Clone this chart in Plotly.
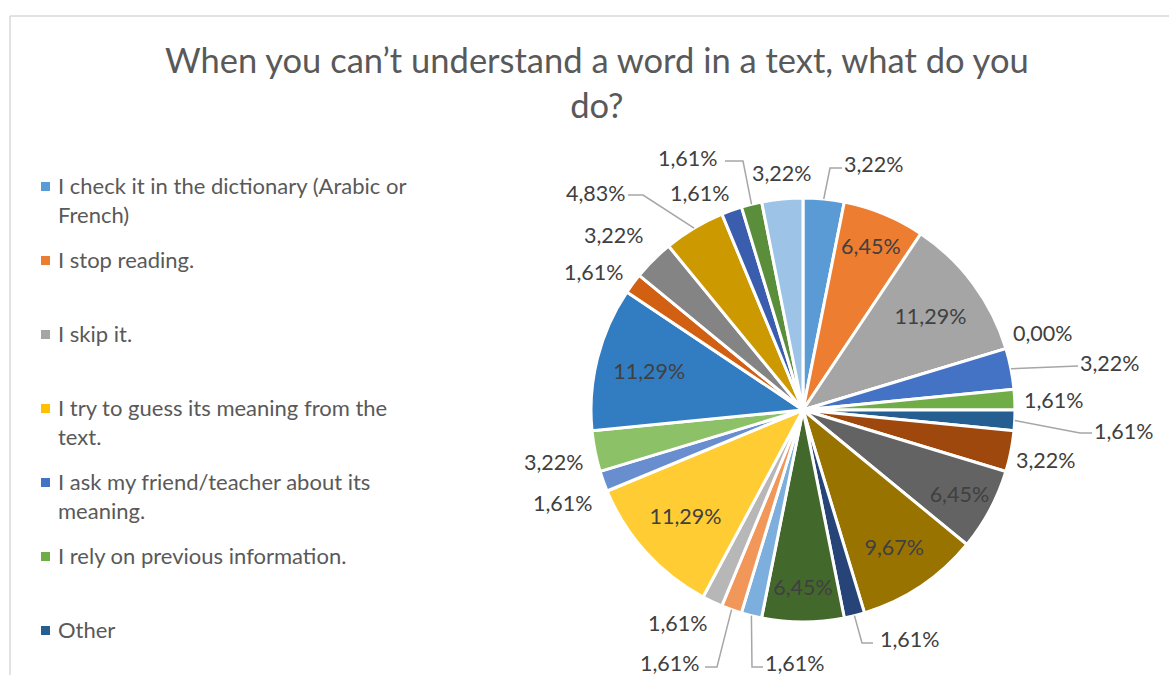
import math
import plotly.graph_objects as go

# Survey answers: share of each answer slice, clockwise from 12 o'clock
shares = [3.22, 6.45, 11.29, 0.00, 3.22, 1.61, 1.61, 3.22, 6.45, 9.67,
          1.61, 6.45, 1.61, 1.61, 1.61, 11.29, 1.61, 3.22, 11.29, 1.61,
          3.22, 4.83, 1.61, 1.61, 3.22]

slice_colors = ["#5B9BD5", "#ED7D31", "#A5A5A5", "#FFC000", "#4472C4", "#70AD47",
                "#255E91", "#9E480E", "#636363", "#997300", "#264478", "#43682B",
                "#7CAFDD", "#F1975A", "#B7B7B7", "#FFCD33", "#698ED0", "#8CC168",
                "#327DC2", "#D26012", "#848484", "#CC9A00", "#3A5DAE", "#5A8E3A",
                "#9DC3E6"]

legend_labels = [
    "I check it in the dictionary (Arabic or<br>French)",
    "I stop reading.",
    "I skip it.",
    "I try to guess its meaning from the<br>text.",
    "I ask my friend/teacher about its<br>meaning.",
    "I rely on previous information.",
    "Other",
]

title_text = "When you can’t understand a word in a text, what do you<br>do?"

# Placement (pixels) of the labels drawn outside the pie, with leader-line bends
outside_labels = {
    0: ((874, 164), [(830, 168), (842, 168)]),
    3: ((1043, 333), []),
    4: ((1110, 363), [(1078, 366)]),
    5: ((1054, 400), []),
    6: ((1124, 431), [(1080, 433), (1092, 433)]),
    7: ((1046, 460), []),
    10: ((910, 639), [(862, 643), (873, 643)]),
    12: ((795, 663), [(752, 667), (763, 667)]),
    13: ((670, 663), [(717, 667), (705, 667)]),
    14: ((678, 623), []),
    16: ((563, 503), []),
    17: ((554, 462), []),
    19: ((594, 272), []),
    20: ((614, 235), []),
    21: ((596, 193), [(643, 195), (628, 195)]),
    22: ((700, 193), []),
    23: ((688, 158), [(743, 161), (725, 161)]),
    24: ((782, 173), []),
}

W, H = 1169, 675
TXT = "#595959"
LBL = "#404040"
FONT = "Lato"
cx, cy, r = 803, 410, 212


def px(x):
    return x / W


def py(y):
    return 1 - y / H


def fmt(v):
    return f"{v:.2f}".replace(".", ",") + "%"


slice_text = [fmt(v) for v in shares]
positions = ["none" if i in outside_labels else "inside" for i in range(len(shares))]

fig = go.Figure()
fig.add_trace(go.Pie(
    values=shares,
    labels=[f"s{i+1}" for i in range(len(shares))],
    text=slice_text,
    textinfo="text",
    textposition=positions,
    insidetextorientation="horizontal",
    sort=False,
    direction="clockwise",
    rotation=0,
    marker=dict(colors=slice_colors, line=dict(color="white", width=3)),
    insidetextfont=dict(family=FONT, size=21.5, color=LBL),
    domain=dict(x=[px(cx - r), px(cx + r)], y=[py(cy + r), py(cy - r)]),
    showlegend=False,
    hoverinfo="skip",
))

shapes = [
    # chart area frame (top and left edges)
    dict(type="line", xref="paper", yref="paper", x0=px(10), x1=1.02, y0=py(16), y1=py(16),
         line=dict(color="#D9D9D9", width=1.5)),
    dict(type="line", xref="paper", yref="paper", x0=px(10), x1=px(10), y0=-0.02, y1=py(16),
         line=dict(color="#D9D9D9", width=1.5)),
]
annotations = [
    dict(text=title_text, x=px(597), y=py(82), xref="paper", yref="paper",
         xanchor="center", yanchor="middle", showarrow=False, align="center",
         font=dict(family=FONT, size=34.5, color=TXT)),
]

# Outside data labels with leader lines starting at the slice's outer edge
total = sum(shares)
cum = 0.0
for i, v in enumerate(shares):
    mid = (cum + v / 2) / total * 2 * math.pi
    cum += v
    if i not in outside_labels:
        continue
    (lx, ly), bends = outside_labels[i]
    annotations.append(dict(text=slice_text[i], x=px(lx), y=py(ly), xref="paper", yref="paper",
                            xanchor="center", yanchor="middle", showarrow=False,
                            font=dict(family=FONT, size=21.5, color=LBL)))
    if bends:
        sx, sy = cx + r * math.sin(mid), cy - r * math.cos(mid)
        pts = [(sx, sy)] + bends
        path = "M " + " L ".join(f"{px(a):.5f},{py(b):.5f}" for a, b in pts)
        shapes.append(dict(type="path", xref="paper", yref="paper", path=path,
                           line=dict(color="#A6A6A6", width=1.5)))

# Legend: square swatch plus label per answer
entry_top = 187
entry_step = 74
for i, lab in enumerate(legend_labels):
    yc = entry_top + i * entry_step
    shapes.append(dict(type="rect", xref="paper", yref="paper",
                       x0=px(41), x1=px(50), y0=py(yc + 4), y1=py(yc - 5),
                       fillcolor=slice_colors[i], line=dict(width=0)))
    annotations.append(dict(text=lab, x=px(56), y=py(yc - 17), xref="paper", yref="paper",
                            xanchor="left", yanchor="top", showarrow=False, align="left",
                            font=dict(family=FONT, size=22, color=TXT)))

fig.update_layout(
    width=W, height=H,
    margin=dict(l=0, r=0, t=0, b=0),
    paper_bgcolor="white",
    plot_bgcolor="white",
    shapes=shapes,
    annotations=annotations,
)

fig.write_html("out.html")
